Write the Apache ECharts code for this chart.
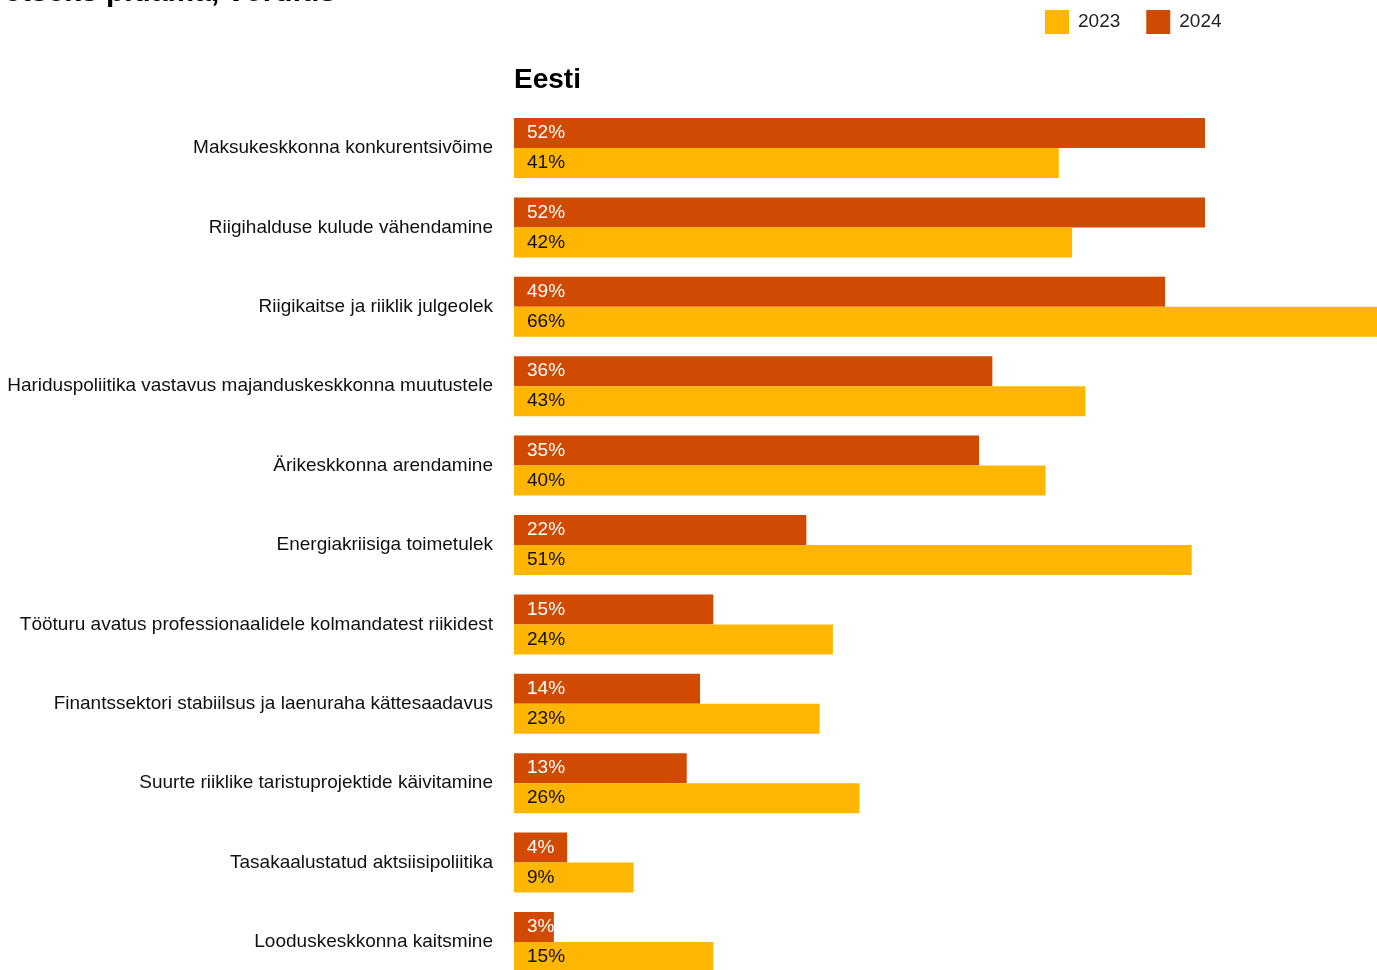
<!DOCTYPE html>
<html>
<head>
<meta charset="utf-8">
<script src="https://cdn.jsdelivr.net/npm/echarts@6/dist/echarts.min.js"></script>
<style>
html,body{margin:0;padding:0;background:#fff;}
#chart{width:1377px;height:970px;}
</style>
</head>
<body>
<div id="chart"></div>
<script>
const categories = [
  "Maksukeskkonna konkurentsivõime",
  "Riigihalduse kulude vähendamine",
  "Riigikaitse ja riiklik julgeolek",
  "Hariduspoliitika vastavus majanduskeskkonna muutustele",
  "Ärikeskkonna arendamine",
  "Energiakriisiga toimetulek",
  "Tööturu avatus professionaalidele kolmandatest riikidest",
  "Finantssektori stabiilsus ja laenuraha kättesaadavus",
  "Suurte riiklike taristuprojektide käivitamine",
  "Tasakaalustatud aktsiisipoliitika",
  "Looduskeskkonna kaitsmine"
];
const values2024 = [52, 52, 49, 36, 35, 22, 15, 14, 13, 4, 3];
const values2023 = [41, 42, 66, 43, 40, 51, 24, 23, 26, 9, 15];
const seriesNames = ["2023", "2024"];
const titleText = "Millised valdkonnad peaks valitsus prioriteetseks pidama, võrdlus";
const panelTitle = "Eesti";

const C2023 = "#FFB600", C2024 = "#D04A02";
const FONT = "'Liberation Sans', Arial, Helvetica, sans-serif";

const chart = echarts.init(document.getElementById('chart'));
chart.setOption({
  animation: false,
  backgroundColor: '#fff',
  textStyle: { fontFamily: FONT },
  graphic: [
    { type: 'text', right: 1377 - 336, top: -22,
      style: { text: titleText, font: "bold 30px " + FONT, fill: '#000', textAlign: 'right' } },
    { type: 'text', left: 514, top: 66,
      style: { text: panelTitle, font: "bold 28px " + FONT, fill: '#000' } }
  ],
  legend: {
    data: seriesNames,
    left: 1045, top: 10, padding: 0,
    itemWidth: 24, itemHeight: 24, itemGap: 26,
    icon: 'rect',
    textStyle: { fontSize: 19, color: '#222', fontFamily: FONT, padding: [0, 0, 0, 4] }
  },
  grid: { left: 514, width: 877, top: 108.3, height: 873.4, containLabel: false, outerBoundsMode: 'none' },
  xAxis: { type: 'value', min: 0, max: 66, show: false },
  yAxis: {
    type: 'category', data: categories, inverse: true,
    axisLine: { show: false }, axisTick: { show: false }, splitLine: { show: false },
    axisLabel: { fontSize: 19, color: '#111', margin: 21, fontFamily: FONT }
  },
  series: [
    { name: '2024', type: 'bar', data: values2024, barWidth: 30, barGap: '0%',
      itemStyle: { color: C2024 },
      label: { show: true, position: 'insideLeft', distance: 13, formatter: '{c}%', color: '#fff', fontSize: 19, fontFamily: FONT } },
    { name: '2023', type: 'bar', data: values2023, barWidth: 30, barGap: '0%',
      itemStyle: { color: C2023 },
      label: { show: true, position: 'insideLeft', distance: 13, formatter: '{c}%', color: '#111', fontSize: 19, fontFamily: FONT } }
  ]
});
</script>
</body>
</html>
